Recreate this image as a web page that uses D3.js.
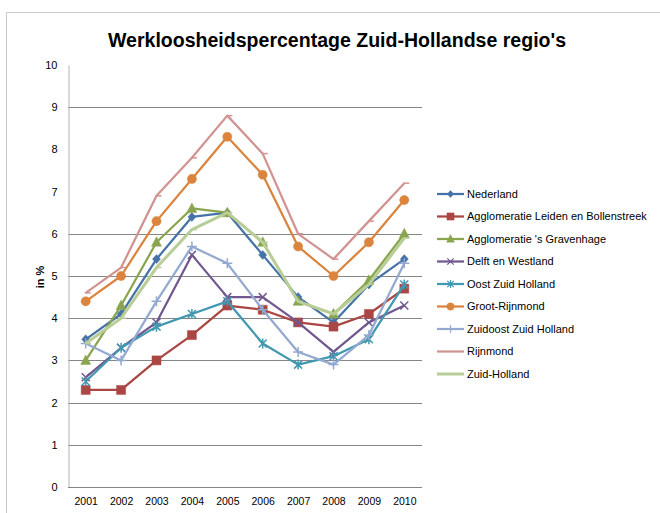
<!DOCTYPE html>
<meta charset="utf-8">
<script src="https://d3js.org/d3.v7.min.js"></script>
<style>
  body { margin: 0; background: #fff; }
  svg { font-family: "Liberation Sans", Arial, sans-serif; }
  .axis text { font-size: 11px; fill: #000; }
  .legend text { font-size: 11px; fill: #000; }
</style>
<body></body>
<script>

// data
var years = ["2001", "2002", "2003", "2004", "2005", "2006", "2007", "2008", "2009", "2010"];
var regions = ["Nederland", "Agglomeratie Leiden en Bollenstreek", "Agglomeratie 's Gravenhage",
  "Delft en Westland", "Oost Zuid Holland", "Groot-Rijnmond", "Zuidoost Zuid Holland",
  "Rijnmond", "Zuid-Holland"];

var nederland  = [3.5, 4.1, 5.4, 6.4, 6.5, 5.5, 4.5, 3.9, 4.8, 5.4];
var leiden     = [2.3, 2.3, 3.0, 3.6, 4.3, 4.2, 3.9, 3.8, 4.1, 4.7];
var gravenhage = [3.0, 4.3, 5.8, 6.6, 6.5, 5.8, 4.4, 4.1, 4.9, 6.0];
var delft      = [2.6, 3.3, 3.9, 5.5, 4.5, 4.5, 3.9, 3.2, 3.9, 4.3];
var oostZH     = [2.5, 3.3, 3.8, 4.1, 4.4, 3.4, 2.9, 3.1, 3.5, 4.8];
var grootRijn  = [4.4, 5.0, 6.3, 7.3, 8.3, 7.4, 5.7, 5.0, 5.8, 6.8];
var zuidoostZH = [3.4, 3.0, 4.4, 5.7, 5.3, 4.2, 3.2, 2.9, 3.6, 5.3];
var rijnmond   = [4.6, 5.2, 6.9, 7.8, 8.8, 7.9, 6.0, 5.4, 6.3, 7.2];
var zuidHol    = [3.4, 4.0, 5.2, 6.1, 6.5, 5.8, 4.4, 4.1, 4.8, 5.9];

var yTicks = [0, 1, 2, 3, 4, 5, 6, 7, 8, 9, 10];
var gridValues = [1, 2, 3, 4, 5, 6, 9]; // the other lines are not visible in the picture

var values = [nederland, leiden, gravenhage, delft, oostZH, grootRijn, zuidoostZH, rijnmond, zuidHol];
var colors = ["#4572A7", "#AA4643", "#89A54E", "#71588F", "#4198AF", "#DB843D", "#93A9CF", "#D19392", "#B9CD96"];
var markers = ["diamond", "square", "triangle", "x", "star", "circle", "plus", "dash", "dash"];

var series = regions.map(function(name, i) {
  return {name: name, values: values[i], color: colors[i], marker: markers[i]};
});

var width = 660, height = 513;

var svg = d3.select("body").append("svg")
  .attr("width", width)
  .attr("height", height);

// chart frame
svg.append("path")
  .attr("d", "M6.5,513 V12.5 H660")
  .attr("fill", "none")
  .attr("stroke", "#c8c8c8")
  .attr("stroke-width", 1);

// title
svg.append("text")
  .attr("x", 108)
  .attr("y", 47)
  .attr("textLength", 458)
  .attr("lengthAdjust", "spacingAndGlyphs")
  .style("font-size", "20px")
  .style("font-weight", "bold")
  .text("Werkloosheidspercentage Zuid-Hollandse regio's");

// scales
var x = d3.scalePoint()
  .domain(years)
  .range([68, 422])
  .padding(0.5);

var y = d3.scaleLinear()
  .domain([0, 10])
  .range([487, 65]);

// gridlines
svg.append("g")
  .selectAll("line")
  .data(gridValues).enter().append("line")
  .attr("x1", 68)
  .attr("x2", 422)
  .attr("y1", function(d) { return Math.round(y(d)) + 0.5; })
  .attr("y2", function(d) { return Math.round(y(d)) + 0.5; })
  .attr("stroke", "#868686")
  .attr("stroke-width", 1);

// axes
var yAxis = d3.axisLeft(y).tickValues(yTicks).tickSize(0).tickPadding(11);
svg.append("g")
  .attr("class", "y axis")
  .attr("transform", "translate(68.5,0)")
  .call(yAxis)
  .call(function(g) { g.select(".domain").attr("stroke", "#b4b4b4"); });

var xAxis = d3.axisBottom(x).tickSize(0).tickPadding(10);
svg.append("g")
  .attr("class", "x axis")
  .attr("transform", "translate(0," + (y(0) + 0.5) + ")")
  .call(xAxis)
  .call(function(g) {
    g.select(".domain").attr("stroke", "#868686").attr("d", "M68,0H422");
    g.selectAll("text").style("font-size", "10.5px");
  });

// y title
svg.append("text")
  .attr("transform", "translate(44,277) rotate(-90)")
  .attr("text-anchor", "middle")
  .style("font-size", "11px")
  .style("font-weight", "bold")
  .text("in %");

// marker shapes
function markerPath(type) {
  switch (type) {
    case "diamond": return "M0,-4.5L4,0L0,4.5L-4,0Z";
    case "square": return "M-4.5,-4.5H4.5V4.5H-4.5Z";
    case "triangle": return "M0,-5.5L5,4L-5,4Z";
    case "circle": return d3.symbol(d3.symbolCircle, 66)();
    case "x": return "M-4,-4L4,4M-4,4L4,-4";
    case "star": return "M-4,-4L4,4M-4,4L4,-4M0,-5V5";
    case "plus": return "M-5,0H5M0,-5V5";
    case "dash": return "M-1,0H5";
  }
}
function isFilled(type) {
  return type == "diamond" || type == "square" || type == "triangle" || type == "circle";
}

var line = d3.line()
  .x(function(d, i) { return x(years[i]); })
  .y(function(d) { return y(d); });

var seriesGroup = svg.selectAll(".series")
  .data(series).enter().append("g")
  .attr("class", "series");

seriesGroup.append("path")
  .attr("d", function(d) { return line(d.values); })
  .attr("fill", "none")
  .attr("stroke", function(d) { return d.color; })
  .attr("stroke-width", function(d) { return d.name == "Zuid-Holland" ? 3 : 2.25; })
  .attr("stroke-linejoin", "round");

seriesGroup.selectAll(".marker")
  .data(function(d) { return d.values.map(function(v, i) { return {v: v, i: i, s: d}; }); })
  .enter().append("path")
  .attr("class", "marker")
  .attr("transform", function(d) { return "translate(" + x(years[d.i]) + "," + y(d.v) + ")"; })
  .attr("d", function(d) { return markerPath(d.s.marker); })
  .attr("fill", function(d) { return isFilled(d.s.marker) ? d.s.color : "none"; })
  .attr("stroke", function(d) { return d.s.color; })
  .attr("stroke-width", function(d) { return isFilled(d.s.marker) ? 0.5 : 1.5; });

// legend
var legend = svg.append("g")
  .attr("class", "legend")
  .selectAll("g")
  .data(series).enter().append("g")
  .attr("transform", function(d, i) { return "translate(437," + (194 + i * 22.5) + ")"; });

legend.append("line")
  .attr("x1", 0).attr("x2", 27)
  .attr("stroke", function(d) { return d.color; })
  .attr("stroke-width", function(d) { return d.name == "Zuid-Holland" ? 3 : 2.25; });

legend.append("path")
  .attr("transform", "translate(13.5,0) scale(0.8)")
  .attr("d", function(d) { return d.marker == "dash" ? "" : markerPath(d.marker); })
  .attr("fill", function(d) { return isFilled(d.marker) ? d.color : "none"; })
  .attr("stroke", function(d) { return d.color; })
  .attr("stroke-width", function(d) { return isFilled(d.marker) ? 0.5 : 1.5; });

legend.append("text")
  .attr("x", 30)
  .attr("dy", "0.35em")
  .text(function(d) { return d.name; });

</script>
